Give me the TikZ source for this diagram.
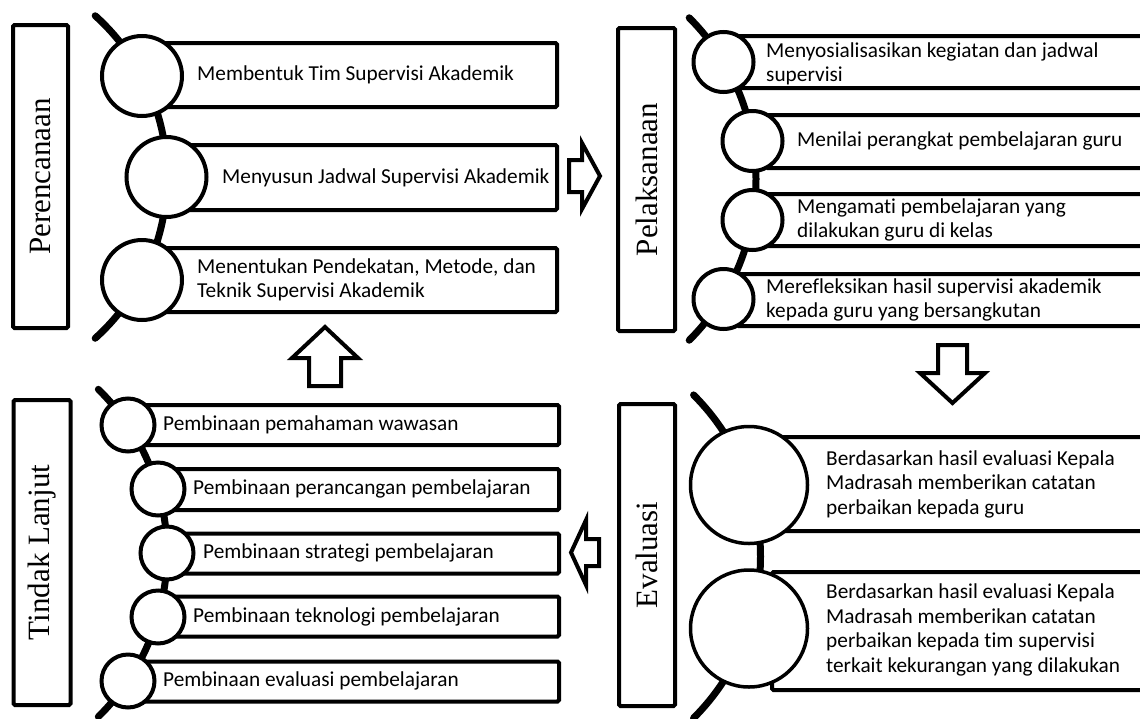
\documentclass[tikz,border=0pt]{standalone}
\usepackage{fontspec}
\setmainfont[Ligatures=NoCommon]{Carlito}
\newfontfamily\labelfont{Liberation Serif}
\usetikzlibrary{calc}
\begin{document}
\begin{tikzpicture}[x=1pt,y=-1pt,
  itembox/.style={draw=black,line width=4pt,fill=white,rounded corners=1.5pt,inner sep=0pt},
  bead/.style={draw=black,line width=4pt,fill=white,circle,inner sep=0pt},
  spine/.style={line width=7pt,line cap=round},
  labelbox/.style={draw=black,line width=4pt,fill=white,rounded corners=1.5pt,inner sep=0pt},
  labeltext/.style={font=\labelfont\fontsize{31}{36}\selectfont,rotate=90,inner sep=0pt},
  itemtext/.style={font=\fontsize{21.3}{24.5}\selectfont,anchor=west,align=left,inner sep=0pt},
  blockarrow/.style={draw=black,line width=4pt,fill=white,line join=miter}
]
\clip (0,0) rectangle (1140,718);
\fill[white] (0,0) rectangle (1140,718);

% ---------- spines ----------
\coordinate (s1c) at (-50,177);
\coordinate (s2c) at (528,179);
\coordinate (s3c) at (-62.5,553);
\coordinate (s4c) at (532,556.5);
\draw[spine] ($(s1c)+(-48:217)$) arc[start angle=-48,end angle=48,radius=217];
\draw[spine] ($(s2c)+(-45:228)$) arc[start angle=-45,end angle=45,radius=228];
\draw[spine] ($(s3c)+(-45.5:229.5)$) arc[start angle=-45.5,end angle=45.5,radius=229.5];
\draw[spine] ($(s4c)+(-45:228.5)$) arc[start angle=-45,end angle=45,radius=228.5];

% ---------- label boxes ----------
\node[labelbox,minimum width=55pt,minimum height=303pt] (l1) at (40.5,176.5) {};
\node[labeltext] (l1t) at (l1) {Perencanaan};
\node[labelbox,minimum width=57pt,minimum height=303pt] (l2) at (646.5,179.5) {};
\node[labeltext] (l2t) at (l2) {Pelaksanaan};
\node[labelbox,minimum width=57pt,minimum height=305pt] (l3) at (42,552.5) {};
\node[labeltext] (l3t) at (l3) {Tindak Lanjut};
\node[labelbox,minimum width=56pt,minimum height=302pt] (l4) at (647,555) {};
\node[labeltext] (l4t) at (l4) {Evaluasi};

% ---------- panel 1 boxes ----------
\node[itembox,anchor=west,minimum width=395pt,minimum height=64pt] (p1b1) at (160,75) {};
\node[itembox,anchor=west,minimum width=370pt,minimum height=65pt] (p1b2) at (185,177.5) {};
\node[itembox,anchor=west,minimum width=395pt,minimum height=64pt] (p1b3) at (160,280) {};
% ---------- panel 2 boxes ----------
\node[itembox,anchor=west,minimum width=420pt,minimum height=52pt] (p2b1) at (735.5,62) {};
\node[itembox,anchor=west,minimum width=390pt,minimum height=53pt] (p2b2) at (764.5,141.5) {};
\node[itembox,anchor=west,minimum width=390pt,minimum height=52pt] (p2b3) at (764.5,220) {};
\node[itembox,anchor=west,minimum width=420pt,minimum height=52pt] (p2b4) at (735.5,300) {};
% ---------- panel 3 boxes ----------
\node[itembox,anchor=west,minimum width=419pt,minimum height=40pt] (p3b1) at (138,425) {};
\node[itembox,anchor=west,minimum width=389pt,minimum height=41pt] (p3b2) at (168,489.5) {};
\node[itembox,anchor=west,minimum width=380pt,minimum height=40pt] (p3b3) at (177,553.5) {};
\node[itembox,anchor=west,minimum width=389pt,minimum height=40pt] (p3b4) at (168,616.5) {};
\node[itembox,anchor=west,minimum width=419pt,minimum height=40pt] (p3b5) at (138,681.5) {};
% ---------- panel 4 boxes ----------
\node[itembox,anchor=west,minimum width=390pt,minimum height=94pt] (p4b1) at (770,484) {};
\node[itembox,anchor=west,minimum width=390pt,minimum height=118pt] (p4b2) at (770,631) {};

% ---------- circles ----------
\node[bead,minimum size=80pt] (p1c1) at (142,76) {};
\node[bead,minimum size=80pt] (p1c2) at (166.5,177) {};
\node[bead,minimum size=80pt] (p1c3) at (142,280) {};
\node[bead,minimum size=60pt] (p2c1) at (723.5,62) {};
\node[bead,minimum size=60pt] (p2c2) at (752.5,141) {};
\node[bead,minimum size=60pt] (p2c3) at (752.5,220) {};
\node[bead,minimum size=60pt] (p2c4) at (723.5,299) {};
\node[bead,minimum size=53pt] (p3c1) at (128,425) {};
\node[bead,minimum size=53pt] (p3c2) at (158,489) {};
\node[bead,minimum size=53pt] (p3c3) at (167,553) {};
\node[bead,minimum size=53pt] (p3c4) at (158,617) {};
\node[bead,minimum size=53pt] (p3c5) at (128,681) {};
\node[bead,minimum size=117pt,line width=3.5pt] (p4c1) at (749,485) {};
\node[bead,minimum size=117pt,line width=3.5pt] (p4c2) at (749,628.5) {};

% ---------- texts ----------
\node[itemtext] (p1t1) at (197,75) {Membentuk Tim Supervisi Akademik};
\node[itemtext] (p1t2) at (222,178) {Menyusun Jadwal Supervisi Akademik};
\node[itemtext] (p1t3) at (197,280) {Menentukan Pendekatan, Metode, dan\\Teknik Supervisi Akademik};
\node[itemtext] (p2t1) at (766,64) {Menyosialisasikan kegiatan dan jadwal\\supervisi};
\node[itemtext] (p2t2) at (797,141) {Menilai perangkat pembelajaran guru};
\node[itemtext] (p2t3) at (797,220) {Mengamati pembelajaran yang\\dilakukan guru di kelas};
\node[itemtext] (p2t4) at (766,300) {Merefleksikan hasil supervisi akademik\\kepada guru yang bersangkutan};
\node[itemtext] (p3t1) at (163,425) {Pembinaan pemahaman wawasan};
\node[itemtext] (p3t2) at (193,489) {Pembinaan perancangan pembelajaran};
\node[itemtext] (p3t3) at (203,553) {Pembinaan strategi pembelajaran};
\node[itemtext] (p3t4) at (193,617) {Pembinaan teknologi pembelajaran};
\node[itemtext] (p3t5) at (163,681) {Pembinaan evaluasi pembelajaran};
\node[itemtext] (p4t1) at (826,484) {Berdasarkan hasil evaluasi Kepala\\Madrasah memberikan catatan\\perbaikan kepada guru};
\node[itemtext] (p4t2) at (826,630) {Berdasarkan hasil evaluasi Kepala\\Madrasah memberikan catatan\\perbaikan kepada tim supervisi\\terkait kekurangan yang dilakukan};

% ---------- block arrows ----------
\draw[blockarrow] (569,160) -- (582,160) -- (582,143) -- (600,176) -- (582,209) -- (582,192) -- (569,192) -- cycle;
\draw[blockarrow] (309,386) -- (309,358) -- (292,358) -- (325,327) -- (358,358) -- (341,358) -- (341,386) -- cycle;
\draw[blockarrow] (938,345) -- (967,345) -- (967,373) -- (985,373) -- (952.5,403) -- (920,373) -- (938,373) -- cycle;
\draw[blockarrow] (599,539) -- (586,539) -- (586,520) -- (571,552.5) -- (586,585) -- (586,566) -- (599,566) -- cycle;
\end{tikzpicture}
\end{document}
